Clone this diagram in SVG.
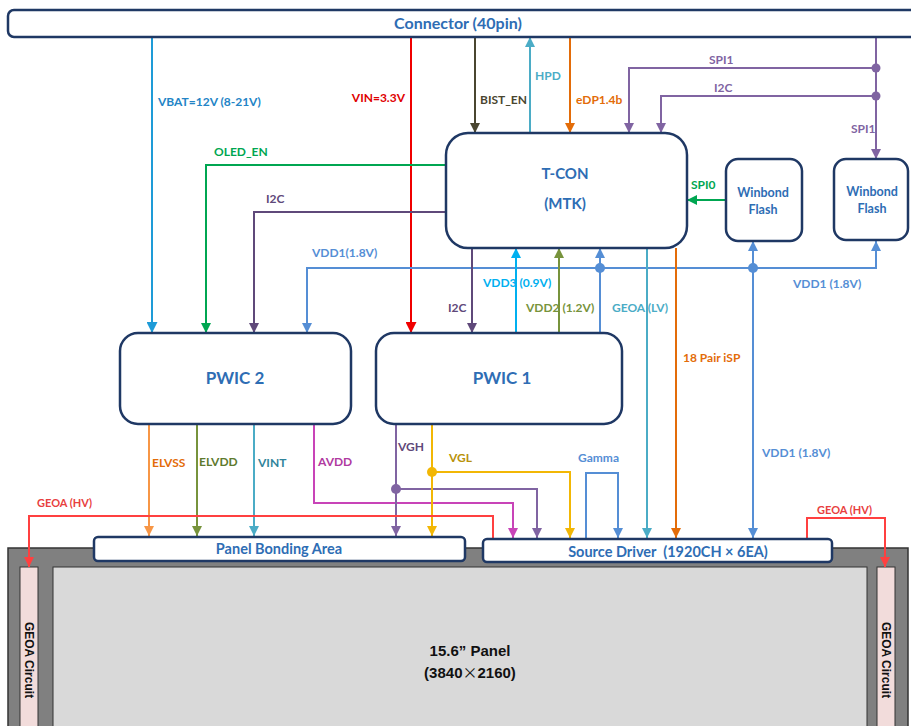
<svg xmlns="http://www.w3.org/2000/svg" width="911" height="726" viewBox="0 0 911 726">
<style>
.box{fill:#fff;stroke:#1F3864;stroke-width:2.5}
.bt{font-family:Lato,"Open Sans","Liberation Sans",sans-serif;font-weight:700;fill:#2E6DB4;text-anchor:middle}
.lb{font-family:Lato,"Open Sans","Liberation Sans",sans-serif;font-weight:700;font-size:12px}
.w{fill:none;stroke-width:2}
.pt{font-family:"Liberation Sans",Arial,sans-serif;fill:#111;text-anchor:middle}
</style>
<defs>
<marker id="m-vbat" viewBox="0 0 10 10" refX="10" refY="5" markerWidth="11" markerHeight="11" markerUnits="userSpaceOnUse" orient="auto"><path d="M0,0L10,5L0,10z" fill="#1E9BD7"/></marker>
<marker id="m-red" viewBox="0 0 10 10" refX="10" refY="5" markerWidth="11" markerHeight="11" markerUnits="userSpaceOnUse" orient="auto"><path d="M0,0L10,5L0,10z" fill="#F00000"/></marker>
<marker id="m-bist" viewBox="0 0 10 10" refX="10" refY="5" markerWidth="10" markerHeight="10" markerUnits="userSpaceOnUse" orient="auto"><path d="M0,0L10,5L0,10z" fill="#4A4630"/></marker>
<marker id="m-hpd" viewBox="0 0 10 10" refX="10" refY="5" markerWidth="10" markerHeight="10" markerUnits="userSpaceOnUse" orient="auto"><path d="M0,0L10,5L0,10z" fill="#4BACC6"/></marker>
<marker id="m-edp" viewBox="0 0 10 10" refX="10" refY="5" markerWidth="10" markerHeight="10" markerUnits="userSpaceOnUse" orient="auto"><path d="M0,0L10,5L0,10z" fill="#E36C09"/></marker>
<marker id="m-spi" viewBox="0 0 10 10" refX="10" refY="5" markerWidth="10" markerHeight="10" markerUnits="userSpaceOnUse" orient="auto"><path d="M0,0L10,5L0,10z" fill="#8064A2"/></marker>
<marker id="m-green" viewBox="0 0 10 10" refX="10" refY="5" markerWidth="10" markerHeight="10" markerUnits="userSpaceOnUse" orient="auto"><path d="M0,0L10,5L0,10z" fill="#00A651"/></marker>
<marker id="m-i2c" viewBox="0 0 10 10" refX="10" refY="5" markerWidth="10" markerHeight="10" markerUnits="userSpaceOnUse" orient="auto"><path d="M0,0L10,5L0,10z" fill="#5F497A"/></marker>
<marker id="m-vdd1" viewBox="0 0 10 10" refX="10" refY="5" markerWidth="10" markerHeight="10" markerUnits="userSpaceOnUse" orient="auto"><path d="M0,0L10,5L0,10z" fill="#558ED5"/></marker>
<marker id="m-vdd3" viewBox="0 0 10 10" refX="10" refY="5" markerWidth="10" markerHeight="10" markerUnits="userSpaceOnUse" orient="auto"><path d="M0,0L10,5L0,10z" fill="#00B0F0"/></marker>
<marker id="m-vdd2" viewBox="0 0 10 10" refX="10" refY="5" markerWidth="10" markerHeight="10" markerUnits="userSpaceOnUse" orient="auto"><path d="M0,0L10,5L0,10z" fill="#77933C"/></marker>
<marker id="m-elvss" viewBox="0 0 10 10" refX="10" refY="5" markerWidth="10" markerHeight="10" markerUnits="userSpaceOnUse" orient="auto"><path d="M0,0L10,5L0,10z" fill="#F79646"/></marker>
<marker id="m-avdd" viewBox="0 0 10 10" refX="10" refY="5" markerWidth="10" markerHeight="10" markerUnits="userSpaceOnUse" orient="auto"><path d="M0,0L10,5L0,10z" fill="#C844B8"/></marker>
<marker id="m-vgl" viewBox="0 0 10 10" refX="10" refY="5" markerWidth="10" markerHeight="10" markerUnits="userSpaceOnUse" orient="auto"><path d="M0,0L10,5L0,10z" fill="#F2B705"/></marker>
<marker id="m-hv" viewBox="0 0 10 10" refX="10" refY="5" markerWidth="10" markerHeight="10" markerUnits="userSpaceOnUse" orient="auto"><path d="M0,0L10,5L0,10z" fill="#FF4040"/></marker>
</defs>
<rect width="911" height="726" fill="#fff"/>

<g id="panel">
<rect x="8" y="548" width="900" height="190" fill="#808080" stroke="#333" stroke-width="1.5"/>
<rect x="53" y="567" width="814" height="170" fill="#D9D9D9" stroke="#333" stroke-width="1"/>
<rect x="20" y="567" width="18" height="170" fill="#F2DCDB" stroke="#333" stroke-width="1"/>
<rect x="877" y="567" width="18" height="170" fill="#F2DCDB" stroke="#333" stroke-width="1"/>
<text class="pt" x="470" y="656" font-size="15" font-weight="700">15.6” Panel</text>
<text class="pt" x="470" y="678" font-size="15" font-weight="700">(3840<tspan font-family="'Noto Sans CJK SC',sans-serif" font-weight="400">×</tspan>2160)</text>
<text class="pt" x="0" y="0" font-size="12" font-weight="700" transform="translate(25,660) rotate(90)">GEOA Circuit</text>
<text class="pt" x="0" y="0" font-size="12" font-weight="700" transform="translate(882,660) rotate(90)">GEOA Circuit</text>
</g>

<g id="connectors">
<path class="w" d="M152,37V333" stroke="#1E9BD7" stroke-width="3" marker-end="url(#m-vbat)"/>
<path class="w" d="M411,37V333" stroke="#F00000" stroke-width="3" marker-end="url(#m-red)"/>
<path class="w" d="M475,37V133" stroke="#4A4630" marker-end="url(#m-bist)"/>
<path class="w" d="M530,133V37" stroke="#4BACC6" marker-end="url(#m-hpd)"/>
<path class="w" d="M570,37V133" stroke="#E36C09" marker-end="url(#m-edp)"/>
<path class="w" d="M876,37V159" stroke="#8064A2" marker-end="url(#m-spi)"/>
<path class="w" d="M876,68H629V133" stroke="#8064A2" marker-end="url(#m-spi)"/>
<path class="w" d="M876,96H661V133" stroke="#8064A2" marker-end="url(#m-spi)"/>
<circle cx="876" cy="68" r="4.5" fill="#8064A2"/>
<circle cx="876" cy="96" r="4.5" fill="#8064A2"/>
<path class="w" d="M446,165H206V333" stroke="#00A651" marker-end="url(#m-green)"/>
<path class="w" d="M446,212H254V333" stroke="#5F497A" marker-end="url(#m-i2c)"/>
<path class="w" d="M726,200H687" stroke="#00A651" stroke-width="2.5" marker-end="url(#m-green)"/>
<path class="w" d="M600,268H307V333" stroke="#558ED5" marker-end="url(#m-vdd1)"/>
<path class="w" d="M600,268H876V241" stroke="#558ED5" marker-end="url(#m-vdd1)"/>
<path class="w" d="M600,333V248" stroke="#558ED5" marker-end="url(#m-vdd1)"/>
<path class="w" d="M753,268V241" stroke="#558ED5" marker-end="url(#m-vdd1)"/>
<path class="w" d="M753,268V538" stroke="#558ED5" marker-end="url(#m-vdd1)"/>
<circle cx="600" cy="268" r="5" fill="#558ED5"/>
<circle cx="753" cy="268" r="5" fill="#558ED5"/>
<path class="w" d="M472,248V333" stroke="#5F497A" marker-end="url(#m-i2c)"/>
<path class="w" d="M516,333V248" stroke="#00B0F0" marker-end="url(#m-vdd3)"/>
<path class="w" d="M559,333V248" stroke="#77933C" marker-end="url(#m-vdd2)"/>
<path class="w" d="M647,248V538" stroke="#4BACC6" marker-end="url(#m-hpd)"/>
<path class="w" d="M676,248V538" stroke="#E36C09" marker-end="url(#m-edp)"/>
<path class="w" d="M149,424V536" stroke="#F79646" marker-end="url(#m-elvss)"/>
<path class="w" d="M197,424V536" stroke="#77933C" marker-end="url(#m-vdd2)"/>
<path class="w" d="M254,424V536" stroke="#4BACC6" marker-end="url(#m-hpd)"/>
<path class="w" d="M314,424V503H513V538" stroke="#C844B8" marker-end="url(#m-avdd)"/>
<path class="w" d="M396,424V536" stroke="#8064A2" marker-end="url(#m-spi)"/>
<path class="w" d="M396,489H537V538" stroke="#8064A2" marker-end="url(#m-spi)"/>
<circle cx="396" cy="489" r="5" fill="#8064A2"/>
<path class="w" d="M432,424V536" stroke="#F2B705" marker-end="url(#m-vgl)"/>
<path class="w" d="M432,472H570V538" stroke="#F2B705" marker-end="url(#m-vgl)"/>
<circle cx="432" cy="472" r="5" fill="#F2B705"/>
<path class="w" d="M586,540V473H618V538" stroke="#558ED5" marker-end="url(#m-vdd1)"/>
<path class="w" d="M493,540V516H29V567" stroke="#FF4040" stroke-width="2.5" marker-end="url(#m-hv)"/>
<path class="w" d="M807,540V518H885V567" stroke="#FF4040" stroke-width="2.5" marker-end="url(#m-hv)"/>
</g>

<g id="connector-labels" class="lb">
<text x="158" y="106" fill="#2384C6">VBAT=12V (8-21V)</text>
<text x="405" y="102" fill="#E00000" text-anchor="end">VIN=3.3V</text>
<text x="480" y="104" fill="#4A4630">BIST_EN</text>
<text x="535" y="80" fill="#4BACC6">HPD</text>
<text x="576" y="104" fill="#E36C09">eDP1.4b</text>
<text x="709" y="64" fill="#8064A2">SPI1</text>
<text x="714" y="92" fill="#8064A2">I2C</text>
<text x="851" y="133" fill="#8064A2">SPI1</text>
<text x="214" y="156" fill="#00A651">OLED_EN</text>
<text x="266" y="203" fill="#5F497A">I2C</text>
<text x="691" y="189" fill="#00A651">SPI0</text>
<text x="312" y="257" fill="#558ED5">VDD1(1.8V)</text>
<text x="483" y="287" fill="#00B0F0">VDD3  (0.9V)</text>
<text x="448" y="312" fill="#5F497A">I2C</text>
<text x="526" y="312" fill="#77933C">VDD2  (1.2V)</text>
<text x="612" y="312" fill="#4BACC6">GEOA  (LV)</text>
<text x="793" y="288" fill="#558ED5">VDD1  (1.8V)</text>
<text x="683" y="362" fill="#E36C09">18 Pair iSP</text>
<text x="762" y="457" fill="#558ED5">VDD1 (1.8V)</text>
<text x="578" y="462" fill="#558ED5">Gamma</text>
<text x="152" y="467" fill="#E36C09">ELVSS</text>
<text x="199" y="466" fill="#5E7A2E">ELVDD</text>
<text x="258" y="467" fill="#31849B">VINT</text>
<text x="318" y="466" fill="#B03AA0">AVDD</text>
<text x="398" y="451" fill="#5F497A">VGH</text>
<text x="449" y="462" fill="#B8920A">VGL</text>
<text x="37" y="507" fill="#E84040" font-size="11">GEOA (HV)</text>
<text x="817" y="514" fill="#E84040" font-size="11">GEOA (HV)</text>
</g>

<g id="connector-40pin">
<rect class="box" x="8" y="10" width="930" height="27" rx="6"/>
<text class="bt" x="458" y="29" font-size="16">Connector (40pin)</text>
</g>

<g id="tcon">
<rect class="box" x="446" y="133" width="241" height="115" rx="22"/>
<text class="bt" x="565" y="179" font-size="15">T-CON</text>
<text class="bt" x="565" y="209" font-size="15">(MTK)</text>
</g>

<g id="winbond-flash-1">
<rect class="box" x="726" y="159" width="76" height="82" rx="12"/>
<text class="bt" x="763" y="197" font-size="12.5">Winbond</text>
<text class="bt" x="763" y="214" font-size="12.5">Flash</text>
</g>

<g id="winbond-flash-2">
<rect class="box" x="834" y="159" width="74" height="81" rx="12"/>
<text class="bt" x="872" y="196" font-size="12.5">Winbond</text>
<text class="bt" x="872" y="213" font-size="12.5">Flash</text>
</g>

<g id="pwic2">
<rect class="box" x="120" y="333" width="231" height="91" rx="18"/>
<text class="bt" x="235" y="384" font-size="17">PWIC 2</text>
</g>

<g id="pwic1">
<rect class="box" x="376" y="333" width="246" height="91" rx="18"/>
<text class="bt" x="502" y="384" font-size="17">PWIC 1</text>
</g>

<g id="panel-bonding-area">
<rect class="box" x="94" y="537" width="371" height="24" rx="4" stroke-width="3"/>
<text class="bt" x="279" y="554" font-size="14.5">Panel Bonding Area</text>
</g>

<g id="source-driver">
<rect class="box" x="483" y="539" width="349" height="23" rx="4" stroke-width="3"/>
<text class="bt" x="668" y="557" font-size="14.5" xml:space="preserve">Source Driver  (1920CH × 6EA)</text>
</g>
</svg>
